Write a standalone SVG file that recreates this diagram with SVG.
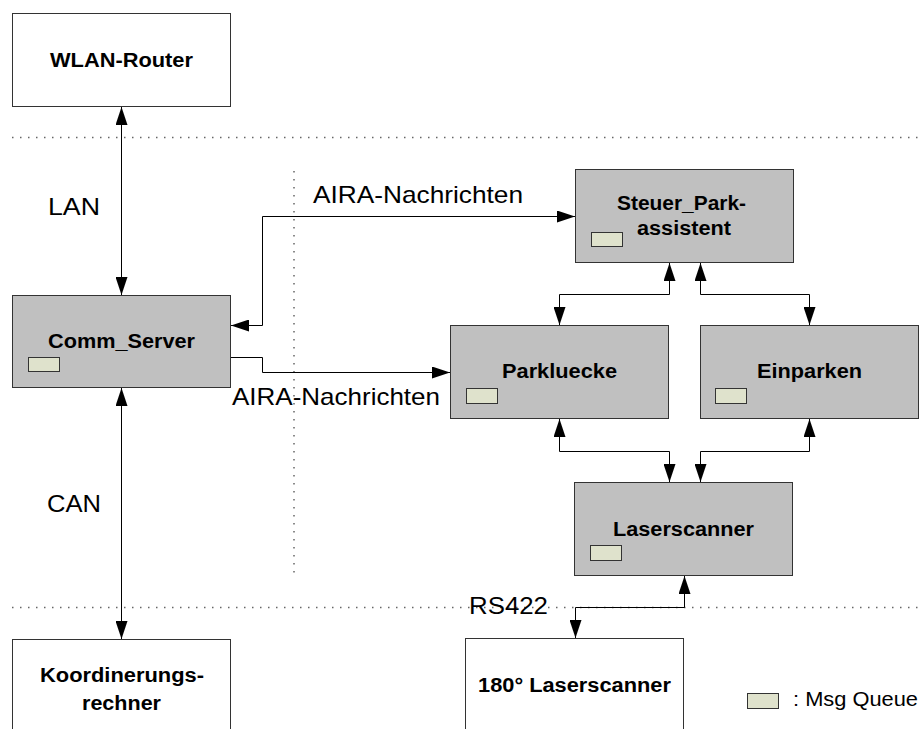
<svg xmlns="http://www.w3.org/2000/svg" width="922" height="729" viewBox="0 0 922 729">
<style>
.box{stroke:#333;stroke-width:1}
.white{fill:#fff}
.grey{fill:#c0c0c0}
.mq{fill:#dfe2cc;stroke:#333;stroke-width:1}
.bold{font-family:"Liberation Sans",Arial,sans-serif;font-weight:bold;font-size:20px;fill:#000}
.lbl{font-family:"Liberation Sans",Arial,sans-serif;font-size:24px;fill:#000}
.con{fill:none;stroke:#000;stroke-width:1}
.dot{fill:none;stroke:#666;stroke-width:1.5;stroke-dasharray:1.5 6.5}
</style>
<defs>
<marker id="ah" viewBox="0 0 18 12" refX="18" refY="6" markerWidth="18" markerHeight="12" markerUnits="userSpaceOnUse" orient="auto-start-reverse">
<path d="M0,0 L18,6 L0,12 z" fill="#000"/>
</marker>
</defs>
<rect width="922" height="729" fill="#fff"/>
<g id="separators">
<line class="dot" x1="12" y1="137.5" x2="922" y2="137.5"/>
<line class="dot" x1="12" y1="607.5" x2="922" y2="607.5"/>
<line class="dot" x1="294" y1="171" x2="294" y2="577"/>
</g>
<g id="wlan-router">
<rect class="box white" x="12.5" y="13.5" width="218" height="93"/>
<text class="bold" x="50" y="67" textLength="143" lengthAdjust="spacingAndGlyphs">WLAN-Router</text>
</g>
<g id="comm-server">
<rect class="box grey" x="12.5" y="295.5" width="218" height="92"/>
<text class="bold" x="48" y="348" textLength="147" lengthAdjust="spacingAndGlyphs">Comm_Server</text>
<rect class="mq" x="28.5" y="357.5" width="31" height="14"/>
</g>
<g id="steuer-parkassistent">
<rect class="box grey" x="575.5" y="169.5" width="218" height="93"/>
<text class="bold" x="617" y="210" textLength="129" lengthAdjust="spacingAndGlyphs">Steuer_Park-</text>
<text class="bold" x="637" y="235" textLength="94" lengthAdjust="spacingAndGlyphs">assistent</text>
<rect class="mq" x="591.5" y="232.5" width="31" height="14"/>
</g>
<g id="parkluecke">
<rect class="box grey" x="450.5" y="325.5" width="218" height="93"/>
<text class="bold" x="502" y="378" textLength="115" lengthAdjust="spacingAndGlyphs">Parkluecke</text>
<rect class="mq" x="466.5" y="388.5" width="31" height="15"/>
</g>
<g id="einparken">
<rect class="box grey" x="700.5" y="325.5" width="218" height="93"/>
<text class="bold" x="757" y="378" textLength="105" lengthAdjust="spacingAndGlyphs">Einparken</text>
<rect class="mq" x="715.5" y="388.5" width="31" height="15"/>
</g>
<g id="laserscanner">
<rect class="box grey" x="574.5" y="482.5" width="218" height="93"/>
<text class="bold" x="613" y="536" textLength="141" lengthAdjust="spacingAndGlyphs">Laserscanner</text>
<rect class="mq" x="590.5" y="545.5" width="31" height="15"/>
</g>
<g id="laserscanner-180">
<rect class="box white" x="465.5" y="638.5" width="218" height="100"/>
<text class="bold" x="478" y="692" textLength="193" lengthAdjust="spacingAndGlyphs">180° Laserscanner</text>
</g>
<g id="koordinierungsrechner">
<rect class="box white" x="12.5" y="639.5" width="218" height="100"/>
<text class="bold" x="40" y="682" textLength="164" lengthAdjust="spacingAndGlyphs">Koordinerungs-</text>
<text class="bold" x="82" y="710" textLength="79" lengthAdjust="spacingAndGlyphs">rechner</text>
</g>
<g id="connectors">
<path class="con" d="M121.5,107 V295" marker-start="url(#ah)" marker-end="url(#ah)"/>
<path class="con" d="M121.5,388 V639" marker-start="url(#ah)" marker-end="url(#ah)"/>
<path class="con" d="M231,325.5 H262.5 V216.5 H575" marker-start="url(#ah)" marker-end="url(#ah)"/>
<path class="con" d="M231,357.5 H262.5 V372.5 H450" marker-end="url(#ah)"/>
<path class="con" d="M669.5,263 V294.5 H559.5 V325" marker-start="url(#ah)" marker-end="url(#ah)"/>
<path class="con" d="M700.5,263 V294.5 H809.5 V325" marker-start="url(#ah)" marker-end="url(#ah)"/>
<path class="con" d="M559.5,419 V451.5 H669.5 V482" marker-start="url(#ah)" marker-end="url(#ah)"/>
<path class="con" d="M809.5,419 V451.5 H700.5 V482" marker-start="url(#ah)" marker-end="url(#ah)"/>
<path class="con" d="M684.5,576 V607.5 H575.5 V638" marker-start="url(#ah)" marker-end="url(#ah)"/>
</g>
<g id="labels">
<text class="lbl" x="48" y="215" textLength="52" lengthAdjust="spacingAndGlyphs">LAN</text>
<text class="lbl" x="47" y="512" textLength="54" lengthAdjust="spacingAndGlyphs">CAN</text>
<text class="lbl" x="313" y="203" textLength="210" lengthAdjust="spacingAndGlyphs">AIRA-Nachrichten</text>
<text class="lbl" x="232" y="405" textLength="208" lengthAdjust="spacingAndGlyphs">AIRA-Nachrichten</text>
<text class="lbl" x="469" y="614" textLength="79" lengthAdjust="spacingAndGlyphs">RS422</text>
</g>
<g id="legend">
<rect class="mq" x="747.5" y="693.5" width="31" height="15"/>
<text class="lbl" x="793" y="706" style="font-size:20px" textLength="125" lengthAdjust="spacingAndGlyphs">: Msg Queue</text>
</g>
</svg>
